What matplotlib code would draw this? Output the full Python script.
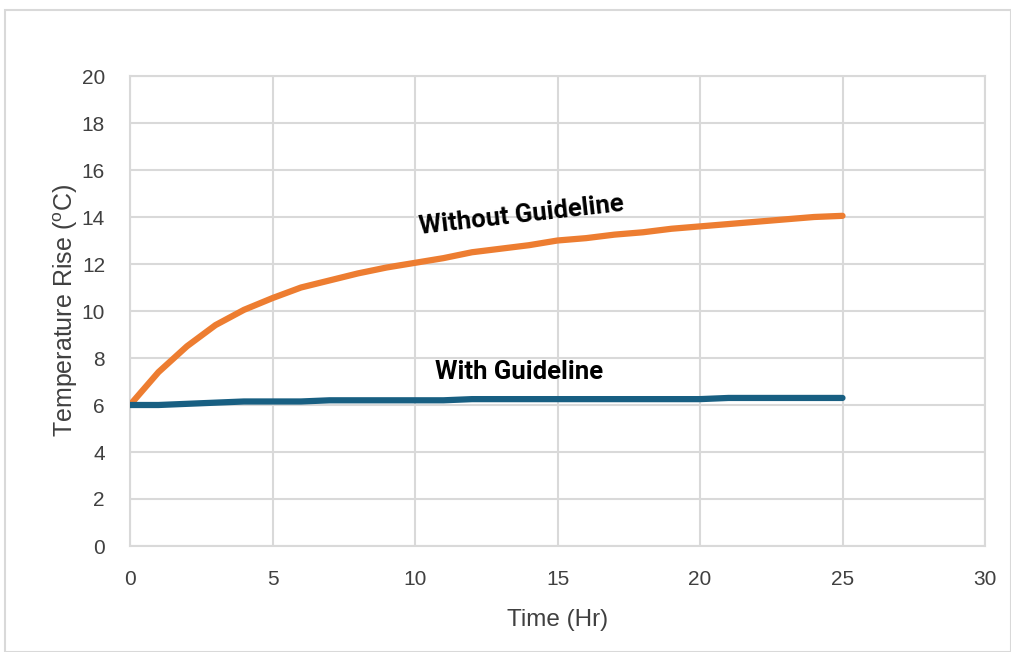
import matplotlib
matplotlib.use("Agg")
import matplotlib.pyplot as plt
from matplotlib.patches import Rectangle

hours = list(range(0, 26))
without_guideline = [6.0, 7.4, 8.5, 9.4, 10.05, 10.55, 11.0, 11.3, 11.6, 11.85, 12.05,
                     12.25, 12.5, 12.65, 12.8, 13.0, 13.1, 13.25, 13.35, 13.5, 13.6,
                     13.7, 13.8, 13.9, 14.0, 14.05]
with_guideline = [6.0, 6.0, 6.05, 6.1, 6.15, 6.15, 6.15, 6.2, 6.2, 6.2, 6.2,
                  6.2, 6.25, 6.25, 6.25, 6.25, 6.25, 6.25, 6.25, 6.25, 6.25,
                  6.3, 6.3, 6.3, 6.3, 6.3]
x_ticks = [0, 5, 10, 15, 20, 25, 30]
y_ticks = [0, 2, 4, 6, 8, 10, 12, 14, 16, 18, 20]

plt.rcParams['font.family'] = ['Liberation Sans', 'DejaVu Sans']

fig = plt.figure(figsize=(10.11, 6.52), dpi=100)
fig.patches.append(Rectangle((5/1011, 0), 1 - 5/1011, 1 - 10/652, transform=fig.transFigure,
                             fill=False, edgecolor='#d9d9d9', linewidth=1.5))
ax = fig.add_axes([130/1011, 1 - 546/652, 855/1011, 470/652])

ax.plot(hours, without_guideline, color='#ED7D31', linewidth=4.5, solid_capstyle='round', zorder=3)
ax.plot(hours, with_guideline, color='#185F82', linewidth=4.5, solid_capstyle='round', zorder=3)

ax.set_xlim(0, 30)
ax.set_ylim(0, 20)
ax.set_xticks(x_ticks)
ax.set_yticks(y_ticks)
ax.grid(True, color='#d9d9d9', linewidth=1.5)
ax.set_axisbelow(True)
for s in ax.spines.values():
    s.set_color('#d9d9d9')
    s.set_linewidth(1.5)
ax.tick_params(axis='x', length=0, labelsize=15, colors='#404040', pad=17)
ax.tick_params(axis='y', length=0, labelsize=15, colors='#404040', pad=18)
ax.set_xlabel('Time (Hr)', fontsize=17.5, color='#404040', labelpad=15)
ax.set_ylabel('Temperature Rise ($^{\\mathregular{o}}$C)', fontsize=18, color='#404040', labelpad=1.5)

ax.text(13.75, 14.05, 'Without Guideline', fontsize=18.5, fontweight='bold', rotation=6.5,
        ha='center', va='center', family=['Roboto', 'DejaVu Sans'])
ax.text(13.65, 7.4, 'With Guideline', fontsize=18.5, fontweight='bold',
        ha='center', va='center', family=['Roboto', 'DejaVu Sans'])

fig.savefig('out.png', dpi=100)
